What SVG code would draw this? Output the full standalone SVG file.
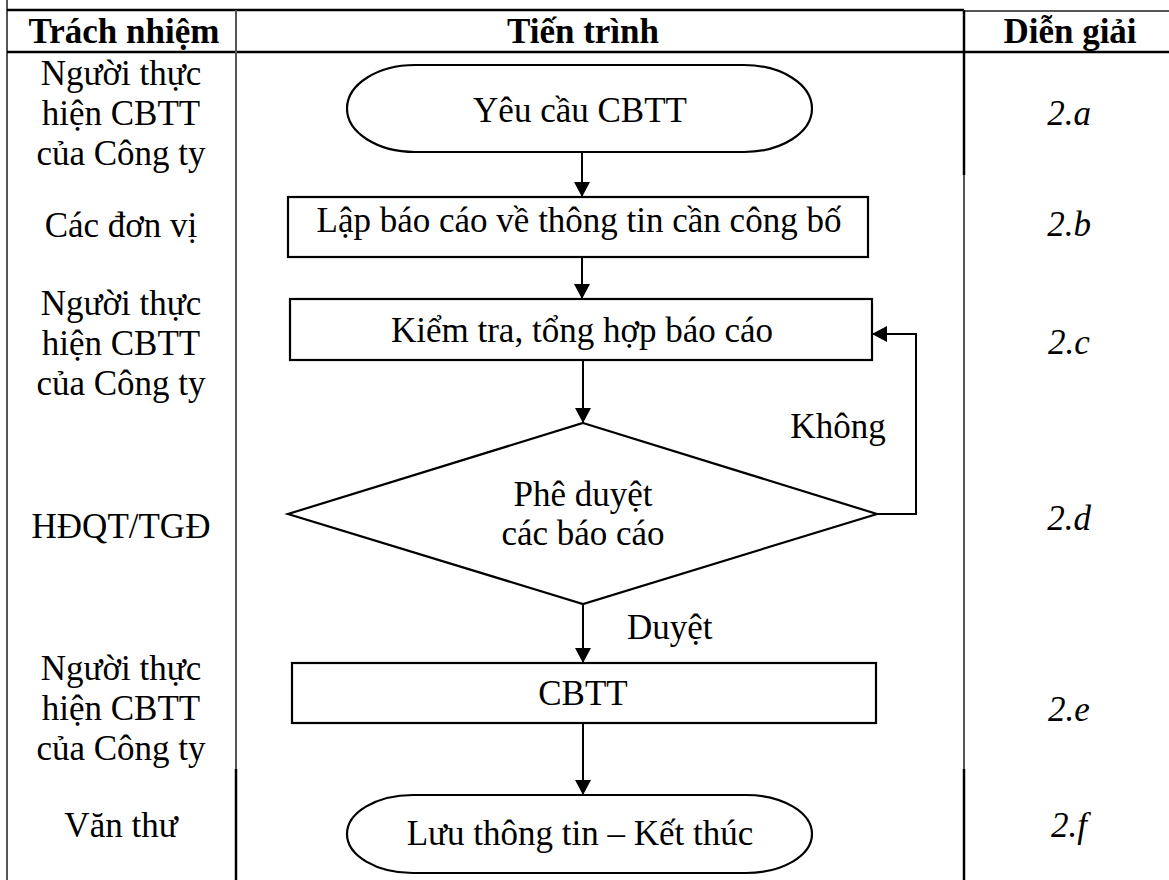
<svg xmlns="http://www.w3.org/2000/svg" width="1169" height="880" viewBox="0 0 1169 880">
<defs>
<style>
text{font-family:"Liberation Serif","Times New Roman",serif;font-size:35px;fill:#000}
.c{text-anchor:middle}
.b{font-weight:bold}
.i{font-style:italic}
.tl{stroke:#000;stroke-width:2.5;fill:none}
.tv{stroke:#555;stroke-width:2;fill:none}
.tk{stroke:#000;stroke-width:2.5;fill:none}
.sh{stroke:#000;stroke-width:2.2;fill:#fff}
.cn{stroke:#000;stroke-width:2;fill:none}
</style>
<marker id="ah" markerUnits="userSpaceOnUse" markerWidth="18" markerHeight="16" refX="15" refY="8" orient="auto">
<path d="M0,0 L15,8 L0,16 Z" fill="#000"/>
</marker>
</defs>
<rect x="0" y="0" width="1169" height="880" fill="#fff"/>
<g id="table">
<line class="tv" x1="7" y1="0" x2="7" y2="880"/>
<line class="tl" x1="7" y1="10" x2="964" y2="10"/>
<line class="tv" x1="964" y1="11" x2="1169" y2="11"/>
<line class="tl" x1="7" y1="52" x2="1169" y2="52"/>
<line class="tv" x1="236" y1="10" x2="236" y2="769"/>
<line class="tk" x1="236" y1="769" x2="236" y2="880"/>
<line class="tk" x1="964" y1="10" x2="964" y2="175"/>
<line class="tv" x1="964" y1="175" x2="964" y2="769"/>
<line class="tk" x1="964" y1="769" x2="964" y2="880"/>
<text class="c b" x="124" y="43">Trách nhiệm</text>
<text class="c b" x="583" y="43">Tiến trình</text>
<text class="c b" x="1070" y="43">Diễn giải</text>
</g>
<g id="responsibility">
<text class="c" x="121" y="85">Người thực</text>
<text class="c" x="121" y="125">hiện CBTT</text>
<text class="c" x="121" y="165">của Công ty</text>
<text class="c" x="121" y="237">Các đơn vị</text>
<text class="c" x="121" y="315">Người thực</text>
<text class="c" x="121" y="355">hiện CBTT</text>
<text class="c" x="121" y="395">của Công ty</text>
<text class="c" x="121" y="538">HĐQT/TGĐ</text>
<text class="c" x="121" y="680">Người thực</text>
<text class="c" x="121" y="720">hiện CBTT</text>
<text class="c" x="121" y="760">của Công ty</text>
<text class="c" x="121" y="837">Văn thư</text>
</g>
<g id="explanation">
<text class="c i" x="1069" y="125">2.a</text>
<text class="c i" x="1069" y="236">2.b</text>
<text class="c i" x="1069" y="354">2.c</text>
<text class="c i" x="1069" y="530">2.d</text>
<text class="c i" x="1069" y="721">2.e</text>
<text class="c i" x="1069" y="837">2.f</text>
</g>
<g id="connectors">
<line class="cn" x1="582" y1="152" x2="582" y2="197" marker-end="url(#ah)"/>
<line class="cn" x1="582" y1="257" x2="582" y2="299" marker-end="url(#ah)"/>
<line class="cn" x1="583" y1="360" x2="583" y2="423" marker-end="url(#ah)"/>
<polyline class="cn" points="877,514 916,514 916,334 872,334" marker-end="url(#ah)"/>
<line class="cn" x1="583" y1="604" x2="583" y2="663" marker-end="url(#ah)"/>
<line class="cn" x1="583" y1="723" x2="583" y2="795" marker-end="url(#ah)"/>
<text class="c" x="838" y="438">Không</text>
<text x="627" y="639">Duyệt</text>
</g>
<g id="n1">
<rect class="sh" x="347" y="65" width="465" height="87" rx="68" ry="43.5"/>
<text class="c" x="580" y="122">Yêu cầu CBTT</text>
</g>
<g id="n2">
<rect class="sh" x="288" y="197" width="580" height="60"/>
<text class="c" x="579" y="232">Lập báo cáo về thông tin cần công bố</text>
</g>
<g id="n3">
<rect class="sh" x="290" y="299" width="582" height="61"/>
<text class="c" x="582" y="342">Kiểm tra, tổng hợp báo cáo</text>
</g>
<g id="n4">
<polygon class="sh" points="583,423 877,514 583,604 288,514"/>
<text class="c" x="583" y="506">Phê duyệt</text>
<text class="c" x="583" y="545">các báo cáo</text>
</g>
<g id="n5">
<rect class="sh" x="292" y="663" width="584" height="60"/>
<text class="c" x="583" y="705">CBTT</text>
</g>
<g id="n6">
<rect class="sh" x="347" y="795" width="465" height="78" rx="66" ry="39"/>
<text class="c" x="580" y="845">Lưu thông tin – Kết thúc</text>
</g>
</svg>
